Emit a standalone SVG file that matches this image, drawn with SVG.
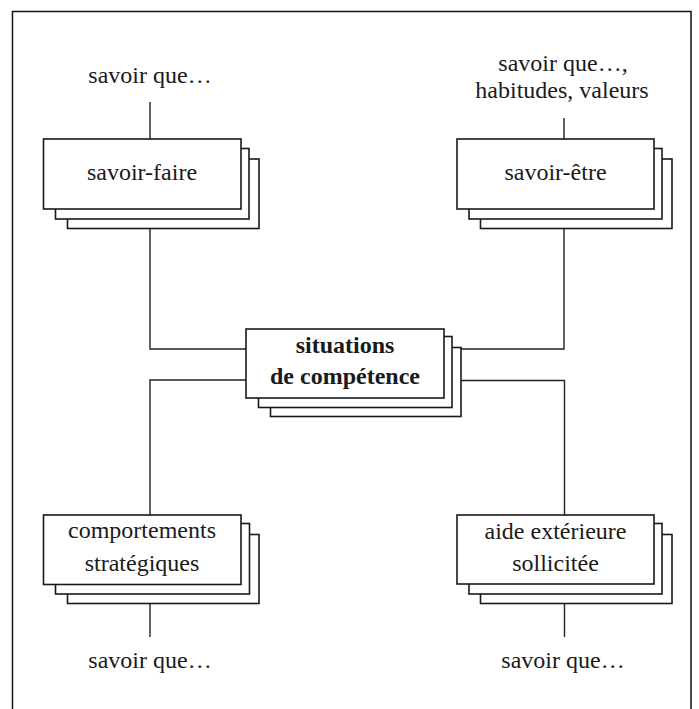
<svg xmlns="http://www.w3.org/2000/svg" width="699" height="709" viewBox="0 0 699 709">
<style>
.frame{fill:none;stroke:#111;stroke-width:1.5}
.box{fill:#fff;stroke:#1a1a1a;stroke-width:1.6}
.ln{fill:none;stroke:#222;stroke-width:1.4}
text{font-family:"Liberation Serif","Times New Roman",serif;font-size:24px;fill:#1a1a1a;text-anchor:middle}
.b{font-weight:bold}
</style>
<rect width="699" height="709" fill="#fff"/>
<rect class="frame" x="12.5" y="11.5" width="678.5" height="710"/>
<g id="connectors">
<path class="ln" d="M150 102 V139"/>
<path class="ln" d="M150 228 V349 H250"/>
<path class="ln" d="M250 380 H150 V515"/>
<path class="ln" d="M150 603 V637"/>
<path class="ln" d="M564 118 V139"/>
<path class="ln" d="M564 228 V349 H458"/>
<path class="ln" d="M458 380.5 H564.5 V515"/>
<path class="ln" d="M564.5 603 V637"/>
</g>
<g id="label-top-left"><text x="150" y="83">savoir que…</text></g>
<g id="label-top-right"><text x="563" y="71">savoir que…,</text><text x="562" y="98">habitudes, valeurs</text></g>
<g id="label-bottom-left"><text x="150" y="668">savoir que…</text></g>
<g id="label-bottom-right"><text x="563" y="668">savoir que…</text></g>
<g id="savoir-faire">
<rect class="box" x="67.5" y="159" width="191.5" height="69.5"/>
<rect class="box" x="55.5" y="148.5" width="193.5" height="70.5"/>
<rect class="box" x="43.5" y="139" width="197.5" height="70"/>
<text x="142" y="180">savoir-faire</text>
</g>
<g id="savoir-etre">
<rect class="box" x="480.5" y="159" width="191.5" height="69.5"/>
<rect class="box" x="469" y="148.5" width="193" height="70.5"/>
<rect class="box" x="457" y="139" width="197" height="70"/>
<text x="555.5" y="180">savoir-être</text>
</g>
<g id="situations">
<rect class="box" x="270.5" y="347.5" width="190.5" height="69"/>
<rect class="box" x="258.5" y="336.5" width="193.5" height="71"/>
<rect class="box" x="246" y="329" width="198" height="69"/>
<text class="b" x="345" y="353">situations</text>
<text class="b" x="345" y="384">de compétence</text>
</g>
<g id="comportements">
<rect class="box" x="67.5" y="534.5" width="191.5" height="69"/>
<rect class="box" x="55.5" y="523.5" width="194" height="70.5"/>
<rect class="box" x="43.5" y="515" width="197.5" height="69.5"/>
<text x="142" y="538">comportements</text>
<text x="142" y="571">stratégiques</text>
</g>
<g id="aide">
<rect class="box" x="480.5" y="534.5" width="191.5" height="69"/>
<rect class="box" x="469" y="523.5" width="193" height="70.5"/>
<rect class="box" x="457" y="515" width="197" height="69"/>
<text x="555.5" y="539">aide extérieure</text>
<text x="555.5" y="571">sollicitée</text>
</g>
</svg>
